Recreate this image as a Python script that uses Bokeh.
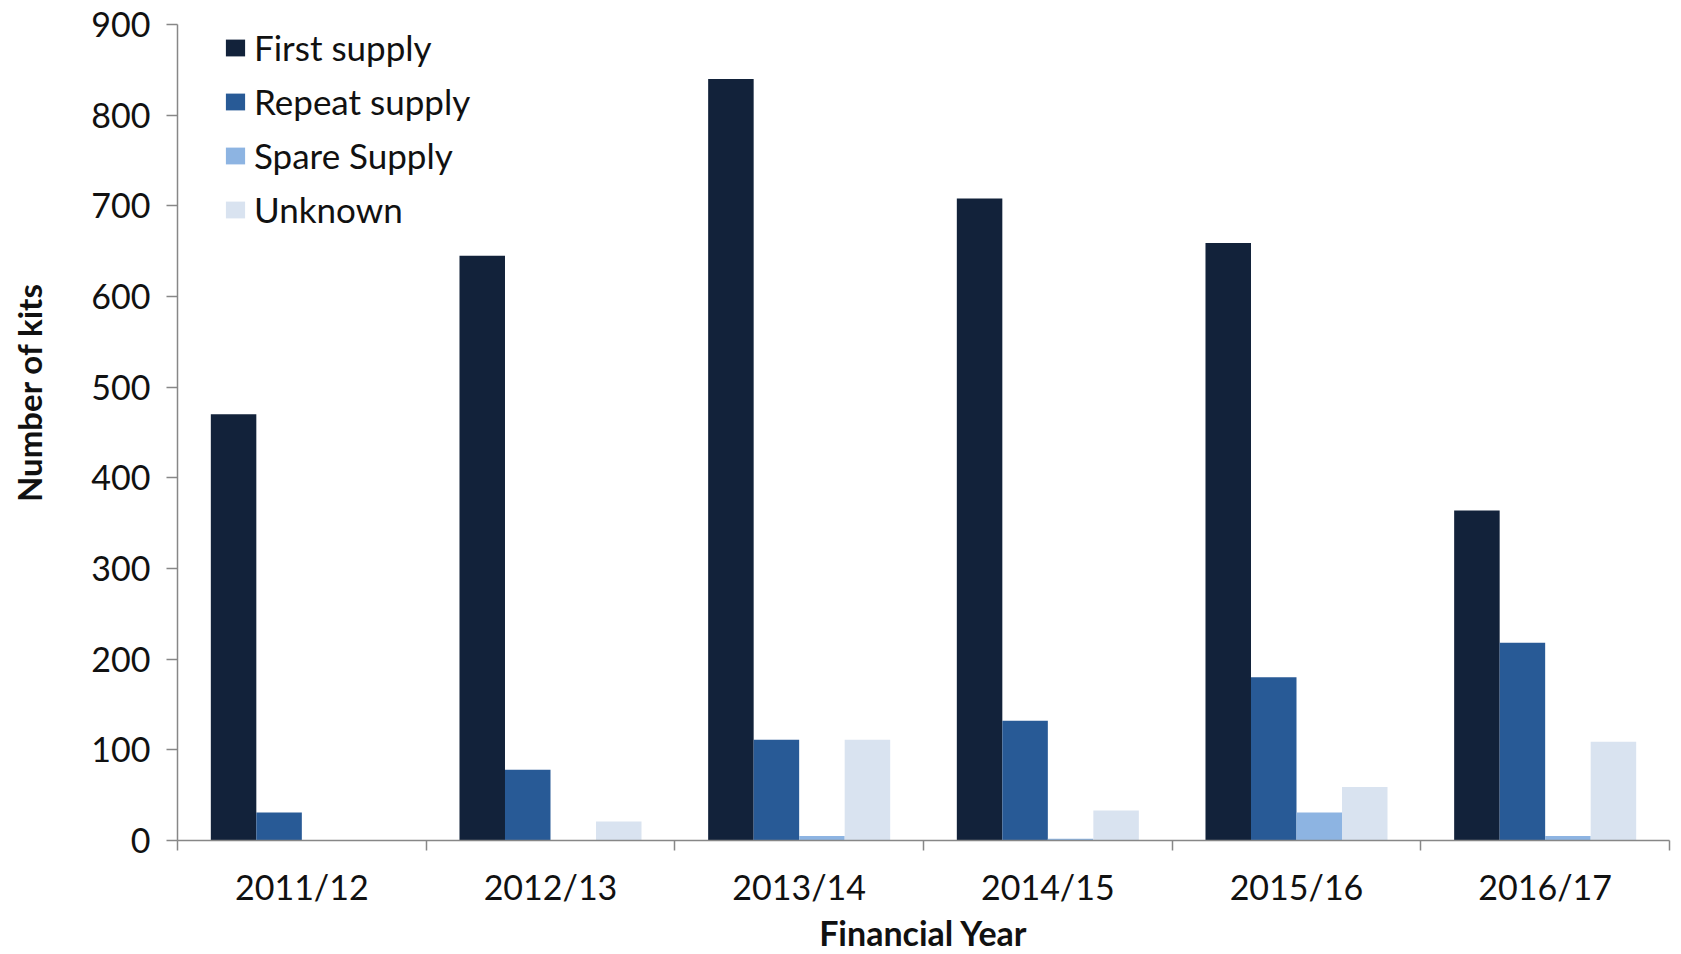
from bokeh.plotting import figure
from bokeh.models import FixedTicker, SingleIntervalTicker, Range1d, LinearAxis
from bokeh.embed import file_html
from bokeh.resources import INLINE

years = ["2011/12", "2012/13", "2013/14", "2014/15", "2015/16", "2016/17"]
first_supply = [470, 645, 840, 708, 659, 364]
repeat_supply = [31, 78, 111, 132, 180, 218]
spare_supply = [0, 0, 5, 2, 31, 5]
unknown = [0, 21, 111, 33, 59, 109]

series = [
    ("First supply", first_supply, "#12223a"),
    ("Repeat supply", repeat_supply, "#285a96"),
    ("Spare Supply", spare_supply, "#8db4e2"),
    ("Unknown", unknown, "#d9e3f0"),
]

FONT = "Lato"
AXIS_GREY = "#878787"

p = figure(frame_width=1492, frame_height=816, output_backend="svg", toolbar_location=None,
           x_range=Range1d(0, len(years)), y_range=Range1d(0, 900),
           min_border_left=177, min_border_top=24, min_border_right=4, min_border_bottom=20)
p.outline_line_color = None
p.xgrid.grid_line_color = None
p.ygrid.grid_line_color = None

bw = 0.183
for k, (name, vals, col) in enumerate(series):
    xs = [i + 0.5 + (k - 1.5) * bw for i in range(len(years))]
    p.vbar(x=xs, top=vals, width=bw, bottom=0, fill_color=col, line_color=None, legend_label=name)

# x axis
xa = p.xaxis[0]
xa.ticker = FixedTicker(ticks=[i + 0.5 for i in range(len(years))],
                        minor_ticks=list(range(len(years) + 1)))
xa.major_label_overrides = {i + 0.5: y for i, y in enumerate(years)}
xa.major_tick_line_color = None
xa.major_tick_out = 0
xa.major_tick_in = 0
xa.minor_tick_out = 10
xa.minor_tick_in = 0
xa.minor_tick_line_color = AXIS_GREY
xa.axis_line_color = AXIS_GREY
xa.axis_line_width = 1.5
xa.minor_tick_line_width = 1.5
xa.major_label_text_font = FONT
xa.major_label_text_font_size = "34px"
xa.major_label_text_color = "#111111"
xa.major_label_standoff = 15
xa.axis_label = "Financial Year"
xa.axis_label_text_font = FONT
xa.axis_label_text_font_style = "bold"
xa.axis_label_text_font_size = "34px"
xa.axis_label_text_color = "#111111"
xa.axis_label_standoff = 2

ya = p.yaxis[0]
ya.ticker = SingleIntervalTicker(interval=100, num_minor_ticks=0)
ya.major_tick_out = 11
ya.major_tick_in = 0
ya.minor_tick_out = 0
ya.minor_tick_in = 0
ya.major_tick_line_color = AXIS_GREY
ya.major_tick_line_width = 1.5
ya.axis_line_color = AXIS_GREY
ya.axis_line_width = 1.5
ya.major_label_text_font = FONT
ya.major_label_text_font_size = "34px"
ya.major_label_text_color = "#111111"
ya.major_label_standoff = 16

# invisible helper axis carrying the y title; leading no-break spaces lift the text above the frame middle
ytitle_axis = LinearAxis(ticker=FixedTicker(ticks=[]),
                         axis_line_color=None, major_tick_line_color=None, minor_tick_line_color=None,
                         axis_label="\u00a0" * 10 + "Number of kits", axis_label_standoff=40,
                         axis_label_text_font=FONT, axis_label_text_font_style="bold",
                         axis_label_text_font_size="33px", axis_label_text_color="#111111")
p.add_layout(ytitle_axis, "left")

lg = p.legend[0]
lg.location = (46, 610)
lg.margin = 0
lg.padding = 0
lg.border_line_color = None
lg.background_fill_alpha = 0
lg.glyph_width = 24
lg.glyph_height = 21
lg.label_standoff = 7
lg.spacing = 12
lg.label_text_font = FONT
lg.label_text_font_size = "35px"
lg.label_text_color = "#111111"

open("out.html", "w").write(file_html(p, INLINE))
